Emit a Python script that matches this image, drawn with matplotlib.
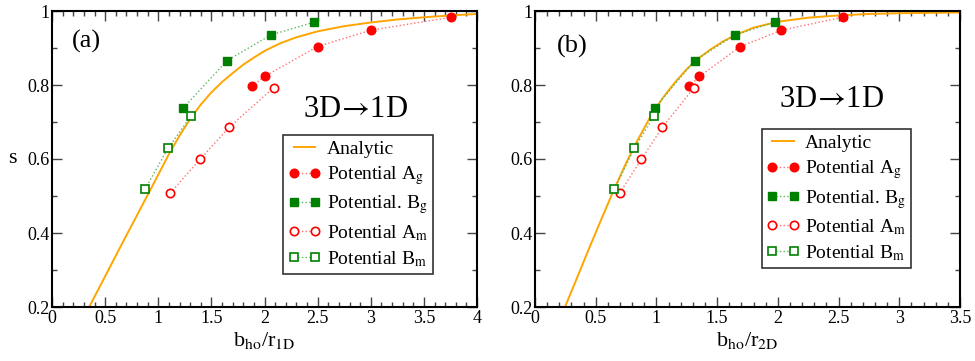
import numpy as np
import matplotlib
matplotlib.use('Agg')
import matplotlib.pyplot as plt
from matplotlib.ticker import MultipleLocator, FuncFormatter

plt.rcParams['font.family'] = ['Liberation Serif', 'DejaVu Serif']
plt.rcParams['mathtext.fontset'] = 'stix'

# shared s values of the four data sets
s_Ag = [0.796, 0.823, 0.904, 0.948, 0.983]
s_Bg = [0.738, 0.866, 0.935, 0.970]
s_Am = [0.508, 0.599, 0.686, 0.793]
s_Bm = [0.518, 0.629, 0.717]

# (a) b_ho / r_1D
xa_Ag = [1.88, 2.00, 2.50, 3.00, 3.755]
xa_Bg = [1.236, 1.647, 2.058, 2.469]
xa_Am = [1.113, 1.393, 1.669, 2.086]
xa_Bm = [0.875, 1.092, 1.311]
xa_an = [0.35, 0.5, 0.65, 0.8, 0.95, 1.1, 1.2, 1.3, 1.4, 1.5, 1.6, 1.7, 1.8, 1.9,
         2.0, 2.15, 2.3, 2.5, 2.75, 3.0, 3.25, 3.5, 3.75, 4.0]
ya_an = [0.2, 0.283, 0.366, 0.448, 0.53, 0.613, 0.663, 0.708, 0.747, 0.78, 0.808, 0.832, 0.855, 0.874,
         0.892, 0.913, 0.929, 0.945, 0.959, 0.969, 0.977, 0.983, 0.988, 0.992]

# (b) b_ho / r_2D
xb_Ag = [1.268, 1.354, 1.691, 2.029, 2.534]
xb_Bg = [0.986, 1.315, 1.645, 1.974]
xb_Am = [0.697, 0.876, 1.049, 1.310]
xb_Bm = [0.653, 0.818, 0.980]
xb_an = [0.247, 0.35, 0.45, 0.55, 0.65, 0.75, 0.85, 0.95, 1.05, 1.15, 1.25, 1.35, 1.45, 1.55,
         1.65, 1.8, 2.0, 2.25, 2.5, 2.75, 3.0, 3.25, 3.5]
yb_an = [0.2, 0.282, 0.362, 0.44, 0.517, 0.589, 0.654, 0.714, 0.764, 0.806, 0.843, 0.873, 0.897, 0.918,
         0.935, 0.955, 0.971, 0.982, 0.988, 0.992, 0.994, 0.995, 0.996]

RED = '#ff0000'
RED_LINE = '#ff7070'
GREEN = '#008000'
GREEN_LINE = '#5cb85c'
ORANGE = '#ffa500'

fig = plt.figure(figsize=(9.75, 3.61), dpi=100)
ax_a = fig.add_axes([52/975, 54/361, 425/975, 296/361])
ax_b = fig.add_axes([535/975, 54/361, 425/975, 296/361])

panels = [
    (ax_a, xa_an, ya_an, xa_Ag, xa_Bg, xa_Am, xa_Bm, 4.0, '(a)', r'b$_\mathrm{ho}$/r$_\mathrm{1D}$',
     (0.047, 0.935), (0.59, 0.642), (0.5435, 0.58)),
    (ax_b, xb_an, yb_an, xb_Ag, xb_Bg, xb_Am, xb_Bm, 3.5, '(b)', r'b$_\mathrm{ho}$/r$_\mathrm{2D}$',
     (0.052, 0.92), (0.574, 0.676), (0.533, 0.60)),
]

for ax, xan, yan, xAg, xBg, xAm, xBm, xmax, tag, xlab, tag_pos, txt_pos, leg_pos in panels:
    ax.plot(xan, yan, color=ORANGE, lw=1.4, label='Analytic', zorder=2)
    ax.plot(xAg, s_Ag, ls=':', lw=1.0, color=RED_LINE, marker='o', ms=6.2,
            mfc=RED, mec=RED, label=r'Potential A$_\mathrm{g}$', zorder=3)
    ax.plot(xBg, s_Bg, ls=':', lw=1.0, color=GREEN_LINE, marker='s', ms=5.2,
            mfc=GREEN, mec=GREEN, label=r'Potential. B$_\mathrm{g}$', zorder=3)
    ax.plot(xAm, s_Am, ls=':', lw=1.0, color=RED_LINE, marker='o', ms=6,
            mfc='white', mec=RED, mew=1.2, label=r'Potential A$_\mathrm{m}$', zorder=3)
    ax.plot(xBm, s_Bm, ls=':', lw=1.0, color=GREEN_LINE, marker='s', ms=5.2,
            mfc='white', mec=GREEN, mew=1.2, label=r'Potential B$_\mathrm{m}$', zorder=3)

    ax.set_xlim(0, xmax)
    ax.set_ylim(0.2, 1.0)
    ax.xaxis.set_major_locator(MultipleLocator(0.5))
    ax.xaxis.set_minor_locator(MultipleLocator(0.1))
    ax.yaxis.set_major_locator(MultipleLocator(0.2))
    ax.yaxis.set_minor_locator(MultipleLocator(0.1))
    fmt = FuncFormatter(lambda v, p: '%g' % round(v, 3))
    ax.xaxis.set_major_formatter(fmt)
    ax.yaxis.set_major_formatter(fmt)
    ax.tick_params(which='both', direction='in', top=True, right=True, labelsize=13, pad=2)
    ax.tick_params(which='major', length=7, width=1.0, color='#444444')
    ax.tick_params(which='minor', length=3.5, width=1.0, color='#444444')
    for sp in ax.spines.values():
        sp.set_linewidth(1.5)

    ax.set_xlabel(xlab, fontsize=16, labelpad=2)
    ax.text(tag_pos[0], tag_pos[1], tag, transform=ax.transAxes, fontsize=19, va='top', ha='left')
    ax.text(txt_pos[0], txt_pos[1], r'3D$\!\rightarrow\!$1D', transform=ax.transAxes, fontsize=22,
            va='baseline', ha='left')

    leg = ax.legend(loc='upper left', bbox_to_anchor=leg_pos, borderaxespad=0, fontsize=14,
                    numpoints=2, handlelength=1.7, handletextpad=0.3, labelspacing=0.33,
                    borderpad=0.25, fancybox=False, framealpha=1, edgecolor='#333333')
    leg.get_frame().set_linewidth(1.2)

ax_a.set_ylabel('s', fontsize=16, rotation=0)
ax_a.yaxis.set_label_coords(-0.093, 0.47)

fig.savefig('out.png', dpi=100)
